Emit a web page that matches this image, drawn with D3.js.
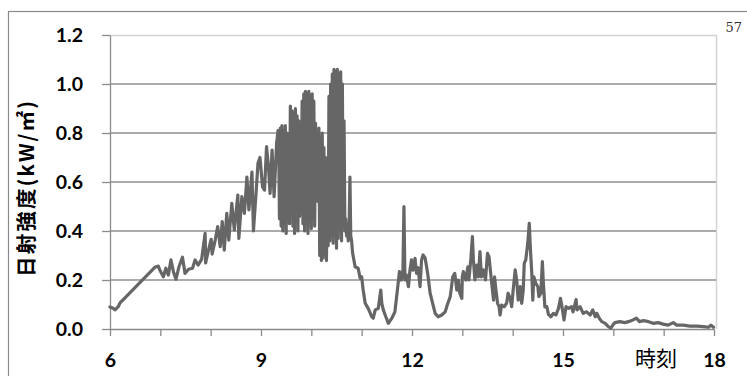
<!DOCTYPE html>
<html>
<head>
<meta charset="utf-8">
<script src="https://cdn.jsdelivr.net/npm/d3@7"></script>
<style>
  body { margin: 0; background: #fff; }
  svg { display: block; }
</style>
</head>
<body>
<svg id="chart" width="747" height="376"></svg>
<script>
// time of day (hours) / irradiance (kW/m2)
const morning = [
  [6.00,0.09],[6.06,0.085],[6.10,0.078],[6.16,0.09],[6.20,0.107],[6.89,0.252],[6.96,0.257],
  [6.99,0.241],[7.06,0.213],[7.11,0.248],[7.16,0.22],[7.21,0.282],[7.26,0.234],[7.31,0.203],
  [7.37,0.254],[7.44,0.293],[7.49,0.227],[7.56,0.244],[7.64,0.248],[7.69,0.282],[7.75,0.261],
  [7.82,0.284],[7.89,0.39],[7.90,0.27],[7.95,0.316],[8.01,0.366],[8.03,0.306],[8.09,0.363],
  [8.14,0.418],[8.19,0.336],[8.23,0.438],[8.27,0.322],[8.32,0.472],[8.36,0.363],[8.42,0.513],
  [8.47,0.404],[8.54,0.547],[8.56,0.37],[8.62,0.54],[8.67,0.472],[8.72,0.62],[8.76,0.486],
  [8.82,0.64],[8.85,0.40],[8.91,0.58],[8.94,0.676],[8.98,0.70],[9.03,0.58],[9.07,0.567],
  [9.11,0.744],[9.15,0.66],[9.18,0.553],[9.22,0.73],[9.26,0.54],[9.31,0.757],[9.34,0.81]
];

// one value per minute from 9:21 (cloud edge flicker)
const peakStart = 9.35;
const peakValues = [
  0.80,0.45,0.82,0.42,0.83,0.40,0.81,0.44,0.83,0.39,0.80,0.46,0.78,0.43,
  0.91,0.47,
  0.89,0.42,0.88,0.39,0.90,0.44,0.87,0.40,0.85,0.46,
  0.75,0.48,
  0.93,0.43,0.96,0.40,0.97,0.45,0.96,0.39,0.97,0.44,0.95,0.41,0.96,0.47,0.93,0.42,
  0.84,0.55,0.80,0.52,
  0.82,0.30,0.78,0.28,0.80,0.29,0.74,0.31,0.70,0.28,
  0.55,0.34,
  0.95,0.36,1.00,0.38,
  1.04,0.35,1.06,0.38,1.05,0.33,1.06,0.37,1.04,0.40,1.05,0.36,
  1.00,0.42,0.85,0.40,
  0.45,0.38,0.42,0.36,0.40,0.62,0.38,0.36
];

const afternoon = [
  [10.82,0.31],[10.87,0.254],[10.93,0.248],[10.97,0.207],[11.00,0.213],[11.03,0.159],[11.07,0.105],
  [11.13,0.084],[11.20,0.05],[11.23,0.044],[11.27,0.078],[11.33,0.084],[11.38,0.159],[11.40,0.105],
  [11.43,0.078],[11.48,0.05],[11.53,0.023],[11.60,0.044],[11.66,0.07],[11.71,0.159],[11.75,0.234],
  [11.79,0.20],[11.82,0.24],[11.84,0.50],[11.86,0.20],[11.89,0.22],[11.93,0.173],[11.96,0.241],
  [11.99,0.282],[12.02,0.24],[12.06,0.288],[12.09,0.227],[12.12,0.25],[12.16,0.173],[12.19,0.282],
  [12.22,0.302],[12.26,0.29],[12.29,0.254],[12.32,0.213],[12.36,0.146],[12.41,0.105],[12.46,0.064],
  [12.52,0.05],[12.59,0.057],[12.66,0.07],[12.70,0.098],[12.76,0.132],[12.81,0.213],[12.85,0.227],
  [12.89,0.159],[12.92,0.20],[12.95,0.146],[12.99,0.125],[13.00,0.213],[13.02,0.234],[13.07,0.2],
  [13.11,0.254],[13.13,0.2],[13.17,0.288],[13.20,0.377],[13.22,0.282],[13.25,0.2],[13.29,0.261],
  [13.32,0.213],[13.35,0.316],[13.38,0.213],[13.42,0.241],[13.46,0.2],[13.50,0.309],[13.53,0.295],
  [13.57,0.213],[13.62,0.118],[13.64,0.213],[13.66,0.173],[13.70,0.105],[13.73,0.091],[13.75,0.057],
  [13.78,0.098],[13.83,0.091],[13.88,0.105],[13.91,0.146],[13.95,0.125],[13.98,0.091],[14.01,0.159],
  [14.05,0.241],[14.08,0.2],[14.11,0.118],[14.15,0.173],[14.18,0.105],[14.21,0.159],[14.23,0.268],
  [14.26,0.282],[14.30,0.35],[14.33,0.431],[14.35,0.336],[14.38,0.227],[14.40,0.118],[14.42,0.213],
  [14.46,0.186],[14.50,0.173],[14.52,0.132],[14.56,0.146],[14.59,0.275],[14.61,0.186],[14.64,0.09],
  [14.68,0.091],[14.71,0.06],[14.76,0.05],[14.81,0.064],[14.86,0.057],[14.91,0.084],[14.95,0.125],
  [14.99,0.078],[15.02,0.037],[15.06,0.091],[15.11,0.084],[15.17,0.091],[15.20,0.07],[15.26,0.12],
  [15.28,0.078],[15.34,0.091],[15.40,0.064],[15.47,0.07],[15.54,0.057],[15.59,0.078],[15.64,0.05],
  [15.67,0.064],[15.72,0.044],[15.77,0.03],[15.84,0.023],[15.90,0.01],[15.95,0.003],[15.99,0.016]
];

const evening = [
  [16.03,0.026],[16.13,0.03],[16.23,0.026],[16.30,0.03],[16.39,0.037],[16.46,0.044],[16.52,0.03],
  [16.60,0.034],[16.70,0.03],[16.79,0.023],[16.89,0.026],[16.99,0.02],[17.09,0.016],[17.19,0.026],
  [17.26,0.016],[17.39,0.016],[17.52,0.012],[17.66,0.012],[17.79,0.01],[17.89,0.007],[17.94,0.016],
  [17.99,0.007]
];

const yTicks = [0, 0.2, 0.4, 0.6, 0.8, 1.0, 1.2];
const xTicks = [6,7,8,9,10,11,12,13,14,15,16,17,18];
const xLabelled = [6, 9, 12, 15, 18];

const peak = peakValues.map((v, i) => [peakStart + i / 60, v]);
const series = morning.concat(peak, afternoon, evening);

const svg = d3.select("#chart");

// outer frame + page number
svg.append("rect")
  .attr("x", 8.5).attr("y", 11.5).attr("width", 760).attr("height", 400)
  .attr("fill", "none").attr("stroke", "#8a8a8a").attr("stroke-width", 1.2);
svg.append("text")
  .attr("x", 742).attr("y", 32).attr("text-anchor", "end")
  .attr("font-family", "DejaVu Serif, Liberation Serif, serif").attr("font-size", 13)
  .attr("fill", "#333").text("57");

const x = d3.scaleLinear().domain([6, 18]).range([110, 714]);
const y = d3.scaleLinear().domain([0, 1.2]).range([329, 35]);

// plot area border (top / right)
svg.append("path")
  .attr("d", `M${x(6)},${y(1.2) + 0.5}H716.5V${y(0)}`)
  .attr("fill", "none").attr("stroke", "#d4d4d4").attr("stroke-width", 1.5);

// gridlines
svg.append("g").selectAll("line")
  .data(yTicks.filter(d => d > 0 && d < 1.2)).enter().append("line")
  .attr("x1", x(6)).attr("x2", 716)
  .attr("y1", d => y(d)).attr("y2", d => y(d))
  .attr("stroke", "#8f8f8f").attr("stroke-width", 1.3);

// y axis
const yAxis = svg.append("g")
  .attr("transform", `translate(${x(6)},0)`)
  .call(d3.axisLeft(y).tickValues(yTicks).tickSize(8).tickSizeOuter(0)
    .tickPadding(19).tickFormat(d3.format(".1f")));
yAxis.select(".domain").attr("stroke", "#8a8a8a").attr("stroke-width", 1.3);
yAxis.selectAll(".tick line").attr("stroke", "#8a8a8a").attr("stroke-width", 1.3);
yAxis.selectAll(".tick text")
  .attr("font-family", "Lato, 'Open Sans', sans-serif").attr("font-weight", "bold")
  .attr("font-size", 19.5).attr("fill", "#000");

// x axis
const xAxis = svg.append("g")
  .attr("transform", `translate(0,${y(0)})`)
  .call(d3.axisBottom(x).tickValues(xTicks).tickSize(7).tickSizeOuter(0)
    .tickPadding(17).tickFormat(d => xLabelled.includes(d) ? d : ""));
xAxis.select(".domain").attr("stroke", "#8a8a8a").attr("stroke-width", 1.3);
xAxis.selectAll(".tick line").attr("stroke", "#8a8a8a").attr("stroke-width", 1.3);
xAxis.selectAll(".tick text")
  .attr("font-family", "Lato, 'Open Sans', sans-serif").attr("font-weight", "bold")
  .attr("font-size", 19.5).attr("fill", "#000");

// irradiance line
const line = d3.line().x(d => x(d[0])).y(d => y(d[1]));
svg.append("path")
  .datum(series)
  .attr("d", line)
  .attr("fill", "none").attr("stroke", "#666666").attr("stroke-width", 3.2)
  .attr("stroke-linejoin", "round").attr("stroke-linecap", "round");

// axis titles
svg.append("text")
  .attr("x", 656).attr("y", 366).attr("text-anchor", "middle")
  .attr("font-family", "'Noto Sans CJK JP', sans-serif").attr("font-size", 21)
  .attr("fill", "#000").text("時刻");

svg.append("text")
  .attr("transform", "translate(34,189) rotate(-90)")
  .attr("text-anchor", "middle")
  .attr("font-family", "'Noto Sans CJK JP', sans-serif").attr("font-weight", "bold")
  .attr("font-size", 20.5).attr("textLength", 176).attr("lengthAdjust", "spacing")
  .attr("fill", "#000").text("日射強度(kW/㎡)");
</script>
</body>
</html>
